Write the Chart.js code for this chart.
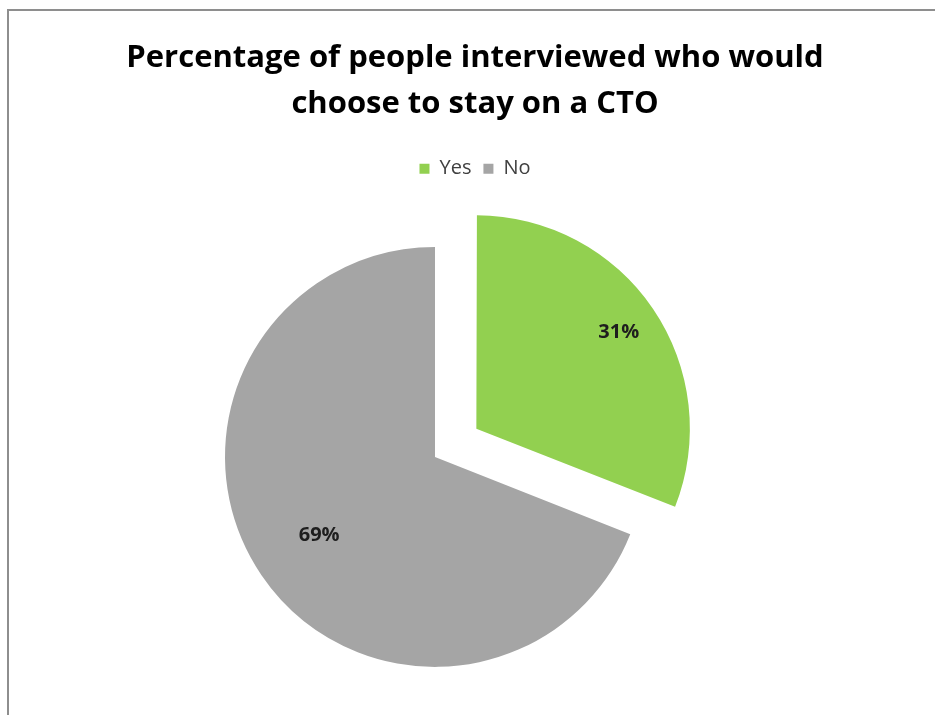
<!DOCTYPE html>
<html>
<head>
<meta charset="utf-8">
<script src="https://cdn.jsdelivr.net/npm/chart.js@4/dist/chart.umd.min.js"></script>
<style>
  html, body { margin: 0; padding: 0; background: #fff; overflow: hidden; }
  #wrap { position: relative; width: 935px; height: 760px; }
  #frame { position: absolute; left: 7px; top: 9px; right: -10px; bottom: -10px; border: 2px solid #8e8e8e; pointer-events: none; }
</style>
</head>
<body>
<div id="wrap">
  <canvas id="ctoPie" width="935" height="760"></canvas>
  <div id="frame"></div>
</div>
<script>
const labels = ['Yes', 'No'];
const shares = [31, 69];
const sliceColors = ['#92D050', '#A5A5A5'];
const titleLines = ['Percentage of people interviewed who would', 'choose to stay on a CTO'];

// narrow the plot area on the right so the pie sits left of the title
const plotInset = {
  id: 'plotInset',
  afterLayout(chart, args, opts) {
    chart.chartArea.right -= opts.right;
    chart.chartArea.width -= opts.right;
  }
};

// percentage text inside each slice
const sliceLabels = {
  id: 'sliceLabels',
  afterDatasetsDraw(chart, args, opts) {
    const ctx = chart.ctx;
    const meta = chart.getDatasetMeta(0);
    ctx.save();
    ctx.font = opts.font;
    ctx.fillStyle = opts.color;
    ctx.textAlign = 'center';
    ctx.textBaseline = 'middle';
    meta.data.forEach((arc, i) => {
      const mid = (arc.startAngle + arc.endAngle) / 2;
      const shift = (arc.options.offset || 0) / 4;
      const d = shift + arc.outerRadius * opts.depth[i];
      ctx.fillText(shares[i] + '%', arc.x + Math.cos(mid) * d, arc.y + Math.sin(mid) * d);
    });
    ctx.restore();
  }
};

const ctx = document.getElementById('ctoPie').getContext('2d');
new Chart(ctx, {
  type: 'pie',
  data: {
    labels: labels,
    datasets: [{
      data: shares,
      backgroundColor: sliceColors,
      borderWidth: 0,
      offset: [200, 0],
      radius: 210
    }]
  },
  options: {
    responsive: false,
    animation: false,
    layout: { padding: { left: 15, right: 0, top: 0, bottom: 35 } },
    plugins: {
      title: {
        display: true,
        text: titleLines,
        color: '#000',
        font: { family: 'Open Sans', size: 31, weight: 'bold', lineHeight: 1.48 },
        padding: { top: 35, bottom: 20 }
      },
      legend: {
        position: 'top',
        labels: {
          boxWidth: 10,
          boxHeight: 10,
          padding: 12,
          color: '#404040',
          font: { family: 'Open Sans', size: 20 }
        }
      },
      tooltip: { enabled: false },
      plotInset: { right: 80 },
      sliceLabels: { font: 'bold 20px "Open Sans"', color: '#1e1e1e', depth: [0.82, 0.667] }
    }
  },
  plugins: [plotInset, sliceLabels]
});
</script>
</body>
</html>
